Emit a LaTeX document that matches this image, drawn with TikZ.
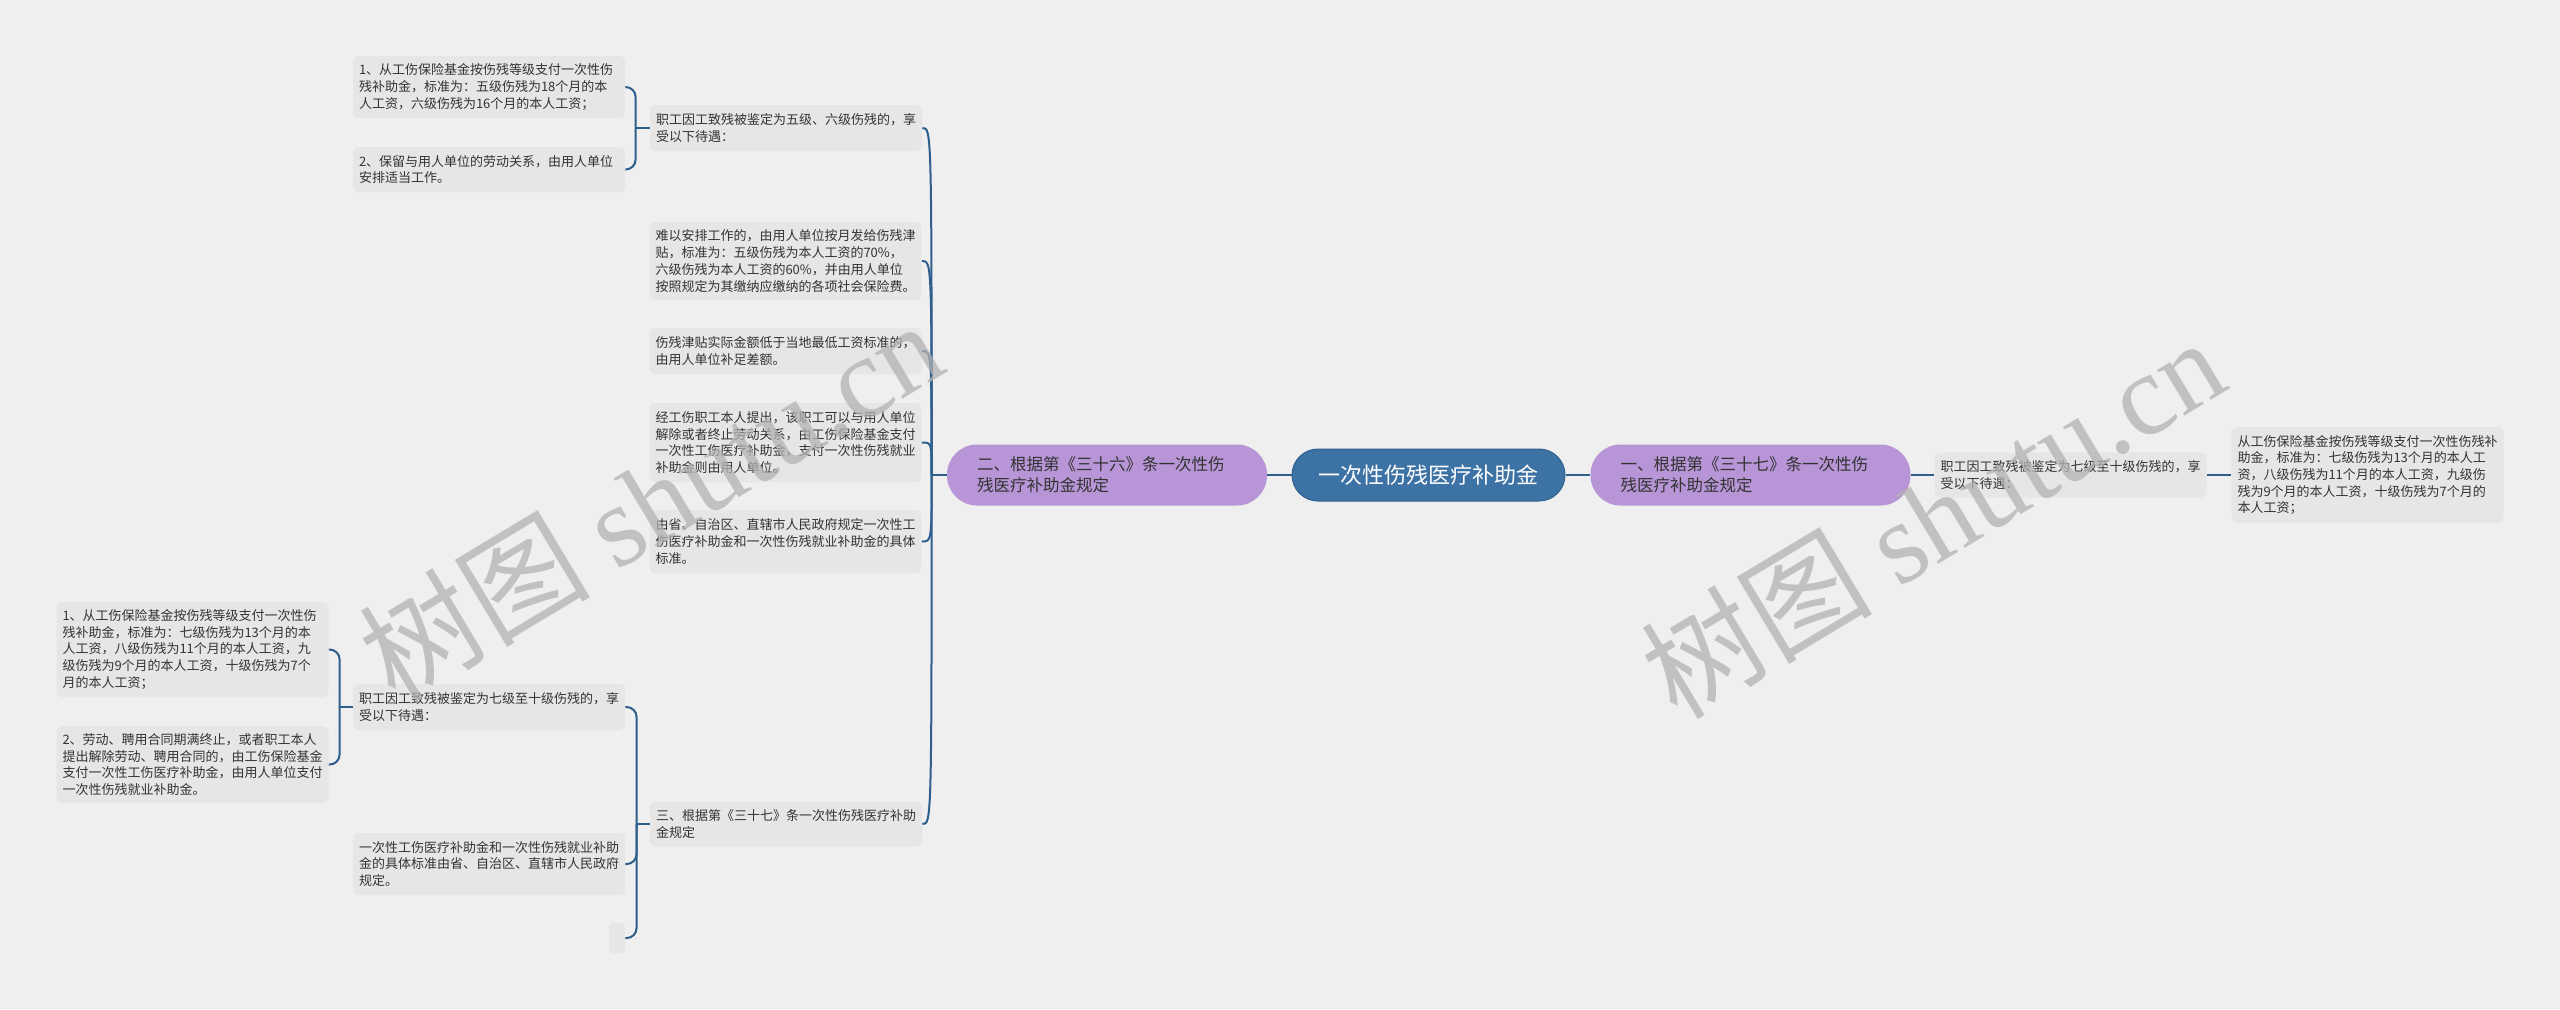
\documentclass[tikz,border=0pt]{standalone}
\usepackage{fontspec}
\setmainfont{Noto Sans CJK SC}
\newfontfamily\wmserif{Liberation Serif}
\definecolor{bgc}{HTML}{EFEFEF}
\definecolor{leafc}{HTML}{E6E6E6}
\definecolor{linec}{HTML}{2E5E8C}
\definecolor{rootc}{HTML}{3D72A5}
\definecolor{rootb}{HTML}{30608F}
\definecolor{purp}{HTML}{B795D6}
\definecolor{textc}{HTML}{333333}
\begin{document}
\begin{tikzpicture}[x=0.5pt,y=-0.5pt,
  conn/.style={draw=linec, line width=1pt},
  leaf/.style={fill=leafc, rounded corners=3pt, inner xsep=3pt, inner ysep=0pt,
    text width=130pt, align=left, font=\fontsize{6.5pt}{8.35pt}\selectfont, text=textc},
  leafempty/.style={fill=leafc, rounded corners=2pt, inner sep=0pt, minimum width=8pt, minimum height=15pt},
  branch/.style={fill=purp, rounded corners=15pt, inner xsep=15pt, inner ysep=0pt,
    text width=130pt, align=left, minimum height=30.5pt,
    font=\fontsize{8.25pt}{10.5pt}\selectfont, text=textc},
  rootn/.style={fill=rootc, draw=rootb, line width=0.5pt, rounded corners=13pt,
    minimum width=136.5pt, minimum height=26pt, inner sep=0pt,
    font=\fontsize{11pt}{13pt}\selectfont, text=white},
  wm/.style={text=black!30, opacity=0.75, inner sep=0pt, font=\fontsize{58pt}{62pt}\selectfont}
]
\fill[bgc] (0,0) rectangle (2560,1009);
\useasboundingbox (0,0) rectangle (2560,1009);

% root and branches
\node[rootn] (root) at (1428.5,475) {一次性伤残医疗补助金};
\node[branch] (L) at (1107,475) {二、根据第《三十六》条一次性伤\\残医疗补助金规定};
\node[branch] (R) at (1750.5,475) {一、根据第《三十七》条一次性伤\\残医疗补助金规定};

% right side
\node[leaf, minimum height=22.5pt] (R1) at (2070.5,475) {职工因工致残被鉴定为七级至十级伤残的，享\\受以下待遇：};
\node[leaf, minimum height=48pt] (R1a) at (2367.5,475) {从工伤保险基金按伤残等级支付一次性伤残补\\助金，标准为：七级伤残为13个月的本人工\\资，八级伤残为11个月的本人工资，九级伤\\残为9个月的本人工资，十级伤残为7个月的\\本人工资；};

% left side, children of L
\node[leaf, minimum height=23pt] (A) at (786,128) {职工因工致残被鉴定为五级、六级伤残的，享\\受以下待遇：};
\node[leaf, minimum height=39pt] (B) at (785.5,261) {难以安排工作的，由用人单位按月发给伤残津\\贴，标准为：五级伤残为本人工资的70\%，\\六级伤残为本人工资的60\%，并由用人单位\\按照规定为其缴纳应缴纳的各项社会保险费。};
\node[leaf, minimum height=23pt] (C) at (785.5,351) {伤残津贴实际金额低于当地最低工资标准的，\\由用人单位补足差额。};
\node[leaf, minimum height=39.5pt] (D) at (785.5,442.5) {经工伤职工本人提出，该职工可以与用人单位\\解除或者终止劳动关系，由工伤保险基金支付\\一次性工伤医疗补助金，支付一次性伤残就业\\补助金则由用人单位。};
\node[leaf, minimum height=31.5pt] (E) at (785.5,541.5) {由省、自治区、直辖市人民政府规定一次性工\\伤医疗补助金和一次性伤残就业补助金的具体\\标准。};
\node[leaf, minimum height=22.5pt] (F) at (786,824) {三、根据第《三十七》条一次性伤残医疗补助\\金规定};

% children of A
\node[leaf, minimum height=31pt] (A1) at (489,87) {1、从工伤保险基金按伤残等级支付一次性伤\\残补助金，标准为：五级伤残为18个月的本\\人工资，六级伤残为16个月的本人工资；};
\node[leaf, minimum height=22.5pt] (A2) at (489,169.5) {2、保留与用人单位的劳动关系，由用人单位\\安排适当工作。};

% children of F
\node[leaf, minimum height=23pt] (F1) at (489,707) {职工因工致残被鉴定为七级至十级伤残的，享\\受以下待遇：};
\node[leaf, minimum height=31pt] (F2) at (489,864) {一次性工伤医疗补助金和一次性伤残就业补助\\金的具体标准由省、自治区、直辖市人民政府\\规定。};
\node[leafempty] (F3) at (617,938) {};

% children of F1
\node[leaf, minimum height=47.5pt] (F1a) at (192.5,649.5) {1、从工伤保险基金按伤残等级支付一次性伤\\残补助金，标准为：七级伤残为13个月的本\\人工资，八级伤残为11个月的本人工资，九\\级伤残为9个月的本人工资，十级伤残为7个\\月的本人工资；};
\node[leaf, minimum height=38.5pt] (F1b) at (192.5,764.5) {2、劳动、聘用合同期满终止，或者职工本人\\提出解除劳动、聘用合同的，由工伤保险基金\\支付一次性工伤医疗补助金，由用人单位支付\\一次性伤残就业补助金。};

% connectors: root
\draw[conn] (root.west) -- (L.east);
\draw[conn] (root.east) -- (R.west);
\draw[conn] (R.east) -- (R1.west);
\draw[conn] (R1.east) -- (R1a.west);

% connectors: L to its children (curved)
\draw[conn] (L.west) -- ++(-15,0) coordinate (jl);
\foreach \c in {A,B,C,D,E,F}{
  \draw[conn] (jl) .. controls (jl |- \c.east) .. (\c.east);
}

% bracket A
\draw[conn] (A.west) -- ++(-14,0) coordinate (ja);
\foreach \c in {A1,A2}{
  \draw[conn, rounded corners=5pt] (ja) |- (\c.east);
}
% bracket F
\draw[conn] (F.west) -- ++(-13,0) coordinate (jf);
\foreach \c in {F1,F2,F3}{
  \draw[conn, rounded corners=5pt] (jf) |- (\c.east);
}
% bracket F1
\draw[conn] (F1.west) -- ++(-13,0) coordinate (jf1);
\foreach \c in {F1a,F1b}{
  \draw[conn, rounded corners=5pt] (jf1) |- (\c.east);
}

% watermarks
\node[wm, rotate=31] (wm1) at (650,500) {树图 {\wmserif shutu.cn}};
\node[wm, rotate=31] (wm2) at (1932,517) {树图 {\wmserif shutu.cn}};
\end{tikzpicture}
\end{document}
